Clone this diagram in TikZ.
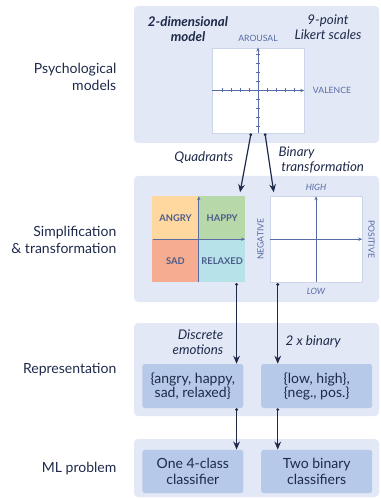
\documentclass[tikz,border=0pt]{standalone}
\usepackage{fontspec}
\setmainfont{Lato}
\usetikzlibrary{arrows.meta,positioning,calc}
\definecolor{emonavy}{RGB}{30,42,74}
\definecolor{emopanel}{RGB}{226,232,245}
\definecolor{emobox}{RGB}{182,201,232}
\definecolor{emoaxis}{RGB}{88,108,165}
\definecolor{emoframe}{RGB}{205,213,235}
\definecolor{emoangry}{RGB}{255,216,160}
\definecolor{emohappy}{RGB}{183,216,168}
\definecolor{emosad}{RGB}{245,172,145}
\definecolor{emorelaxed}{RGB}{184,226,234}

\begin{document}
\begin{tikzpicture}[x=0.75pt, y=-0.75pt,
    panel/.style={fill=emopanel, rounded corners=3pt},
    stage/.style={font=\fontsize{10.5}{12.5}\selectfont, text=emonavy,
                  align=right, anchor=east},
    plot/.style={draw=emoframe, fill=white, minimum width=69pt,
                 minimum height=64pt, inner sep=0pt},
    axis/.style={-{Stealth[length=3pt,width=2.5pt]}, emoaxis, line width=0.6pt},
    tag/.style={font=\fontsize{6.5}{7}\selectfont, text=emoaxis},
    cell/.style={minimum width=34.6pt, minimum height=31.9pt, inner sep=0pt,
                 font=\fontsize{7}{8}\selectfont\bfseries, text=emoaxis!85!black},
    repbox/.style={fill=emobox, rounded corners=2pt, minimum height=33pt,
                   align=center, inner sep=0pt, text=emonavy},
    note/.style={font=\itshape\fontsize{10}{11.5}\selectfont, text=emonavy},
    flow/.style={{Circle[length=2pt]}-{Stealth[length=6pt,width=5pt]},
                 emonavy, line width=0.9pt},
  ]
  \useasboundingbox (0,0) rectangle (380,498);

  % Panels
  \path[panel] (134,6) rectangle (379,143);
  \path[panel] (134,176) rectangle (379,302);
  \path[panel] (134,323) rectangle (379,416);
  \path[panel] (134,439) rectangle (379,497);

  % Stage labels
  \node[stage] (psy) at (121,77) {Psychological\\models};
  \node[stage] (simp) at (121,240) {Simplification\\\& transformation};
  \node[stage] (repr) at (121,370) {Representation};
  \node[stage] (ml) at (121,469) {ML problem};

  % Circumplex model
  \node[font=\bfseries\itshape\fontsize{10}{11.5}\selectfont, text=emonavy,
        align=center] (twodim) at (188,29) {2-dimensional\\model};
  \node[note, align=center] (likert) at (328,27) {9-point\\Likert scales};
  \node[plot] (circumplex) at (258,90.5) {};
  \draw[axis] (circumplex.west) -- (circumplex.east);
  \draw[axis] (circumplex.south) -- (circumplex.north);
  \foreach \k in {-4,-3,-2,-1,1,2,3,4} {
    \draw[emoaxis, line width=0.5pt] ($(circumplex.center)+(9*\k,-2)$) -- ++(0,4);
    \draw[emoaxis, line width=0.5pt] ($(circumplex.center)+(-2,9*\k)$) -- ++(4,0);
  }
  \node[tag, above=1pt of circumplex] (arousal) {AROUSAL};
  \node[tag, right=3pt of circumplex] (valence) {VALENCE};

  % Quadrants
  \coordinate (qc) at (198.8,239.2);
  \node[cell, fill=emoangry, anchor=south east] (angry) at (qc) {ANGRY};
  \node[cell, fill=emohappy, anchor=south west] (happy) at (qc) {HAPPY};
  \node[cell, fill=emosad, anchor=north east] (sad) at (qc) {SAD};
  \node[cell, fill=emorelaxed, anchor=north west] (relaxed) at (qc) {RELAXED};
  \node[plot, draw=none, fill=none] (quad) at (qc) {};
  \draw[axis] (quad.west) -- (quad.east);
  \draw[axis] (quad.south) -- (quad.north);

  % Binary transformation
  \node[plot] (binary) at (316,239.2) {};
  \draw[axis] (binary.west) -- (binary.east);
  \draw[axis] (binary.south) -- (binary.north);
  \node[tag, font=\itshape\fontsize{6.5}{7}\selectfont, above=1pt of binary] (high) {HIGH};
  \node[tag, font=\itshape\fontsize{6.5}{7}\selectfont, below=1pt of binary] (low) {LOW};
  \node[tag, rotate=90, left=1pt of binary, anchor=south] (neg) {NEGATIVE};
  \node[tag, rotate=-90, right=1pt of binary, anchor=south] (pos) {POSITIVE};

  \node[note, anchor=east] (quadrants) at (238,158) {Quadrants};
  \node[note, align=left, anchor=west] (bintrans) at (274,160)
    {Binary\\\hspace*{2pt}transformation};

  % Representation
  \node[repbox, minimum width=75.75pt, font=\fontsize{10.5}{10.5}\selectfont]
    (discrete) at (192.8,386) {\{angry, happy,\\sad, relaxed\}};
  \node[repbox, minimum width=83.25pt, font=\fontsize{10.5}{10.5}\selectfont]
    (twobin) at (316.7,386) {\{low, high\},\\\{neg., pos.\}};
  \node[note, align=right, anchor=east] (emotions) at (228,342)
    {Discrete\\emotions};
  \node[note, anchor=west] (twox) at (281,342) {2 x binary};

  % ML problem
  \node[repbox, minimum width=75.75pt, minimum height=32.5pt,
        font=\fontsize{10.5}{12.5}\selectfont]
    (fourclass) at (192.8,471.5) {One 4-class\\classifier};
  \node[repbox, minimum width=83.25pt, minimum height=32.5pt,
        font=\fontsize{10.5}{12.5}\selectfont]
    (binclass) at (316.7,471.5) {Two binary\\classifiers};

  % Arrows
  \draw[flow] ($(circumplex.south)+(-7,0)$) -- ($(quad.north east)+(-5,-4)$);
  \draw[flow] ($(circumplex.south)+(7,0)$) -- ($(binary.north west)+(4,-4)$);
  \coordinate (qa) at ($(quad.south east)+(-8.5,1)$);
  \coordinate (ba) at ($(binary.south west)+(8,1)$);
  \draw[flow] (qa) -- (qa |- discrete.north);
  \draw[flow] (ba) -- (ba |- twobin.north);
  \draw[flow] (qa |- discrete.south) -- (qa |- fourclass.north);
  \draw[flow] (ba |- twobin.south) -- (ba |- binclass.north);
\end{tikzpicture}
\end{document}
